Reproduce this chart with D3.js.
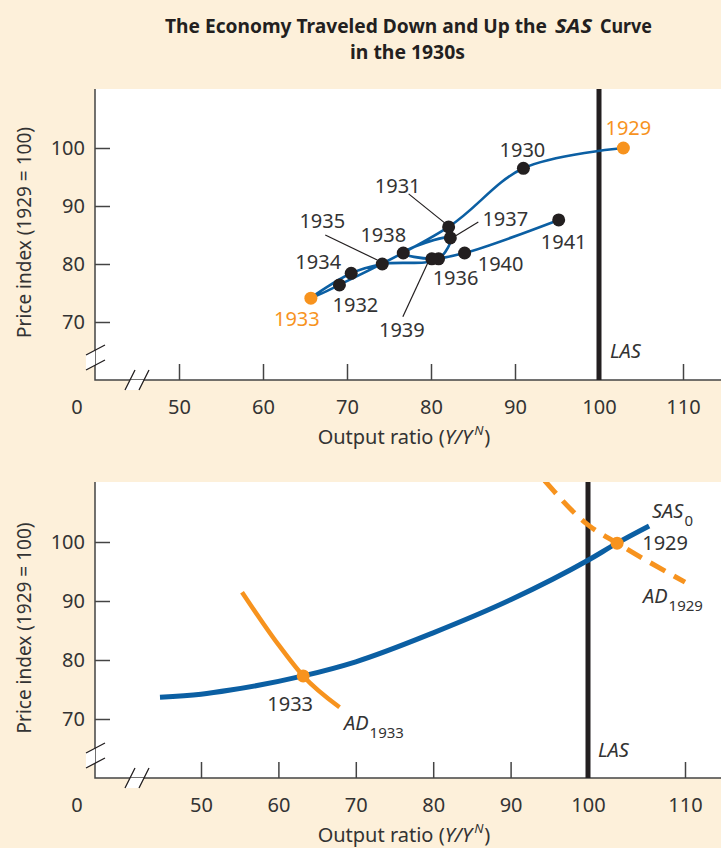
<!DOCTYPE html>
<meta charset="utf-8">
<style>
body { margin: 0; background: #fdf0da; }
svg { display: block; font-family: "Noto Sans", sans-serif; }
.tick text { font-size: 20px; fill: #333; font-family: "Noto Sans", sans-serif; }
.tick line { stroke: #444; stroke-width: 1.5; }
.lbl { font-size: 20px; fill: #333; }
.ital { font-style: italic; }
.ttl { font-size: 19px; font-weight: bold; fill: #231f20; }
</style>
<svg width="721" height="848"></svg>
<script src="https://d3js.org/d3.v7.min.js"></script>
<script>

// top panel: the economy's path 1929-1941
var years = [1929, 1930, 1931, 1932, 1933, 1934, 1935, 1936, 1937, 1938, 1939, 1940, 1941];
var outputRatio = [102.9, 91.0, 82.1, 69.1, 65.7, 70.5, 74.2, 80.9, 82.3, 76.7, 80.1, 84.0, 95.2];
var priceIndex = [100.0, 96.5, 86.4, 76.4, 74.1, 78.4, 80.0, 80.9, 84.5, 81.9, 80.9, 81.9, 87.6];

// bottom panel curves
var sasOutput = [44.7, 50, 53.8, 63.2, 70, 80, 90, 100, 103, 106.3];
var sasPrice = [73.7, 74.2, 74.9, 77.3, 79.7, 84.6, 90.2, 96.9, 99.8, 102.7];
var ad1933Output = [55.3, 60, 63.2, 67.9];
var ad1933Price = [91.5, 82.6, 77.3, 72.0];
var ad1929Output = [94.4, 100, 103, 110];
var ad1929Price = [110.4, 102.9, 99.8, 93.2];
var equilibria = [{ year: 1933, x: 63.2, y: 77.3 }, { year: 1929, x: 103, y: 99.8 }];

var xTicks = [50, 60, 70, 80, 90, 100, 110];
var yTicks = [70, 80, 90, 100];
var lasOutput = 100;

var orange = "#f7931e", blue = "#0b5fa3", ink = "#231f20";

// label offsets for the years in the top panel (px from the dot), with optional leader lines
var labelPos = {
  1929: { dx: 5, dy: -20, color: orange },
  1930: { dx: -1, dy: -18 },
  1931: { dx: -51, dy: -41, lead: [-40, -33, -4, -4] },
  1932: { dx: 16, dy: 20 },
  1933: { dx: -14, dy: 21, color: orange },
  1934: { dx: -33, dy: -11 },
  1935: { dx: -60, dy: -43, lead: [-57, -29, -5, -4] },
  1936: { dx: 17, dy: 19 },
  1937: { dx: 55, dy: -19, lead: [28, -16, 5, -2] },
  1938: { dx: -20, dy: -18 },
  1939: { dx: -30, dy: 71, lead: [-29, 58, -4, 4] },
  1940: { dx: 36, dy: 11 },
  1941: { dx: 5, dy: 22 }
};

var svg = d3.select("svg");

// title, in pieces squeezed to the widths of the condensed original face
function titlePiece(x, y, w, s, italic) {
  svg.append("text").attr("class", "ttl")
    .attr("x", x).attr("y", y)
    .attr("textLength", w).attr("lengthAdjust", "spacingAndGlyphs")
    .style("font-style", italic ? "italic" : "normal")
    .text(s);
}
titlePiece(165, 33, 382, "The Economy Traveled Down and Up the");
titlePiece(555, 33, 37, "SAS", true);
titlePiece(600, 33, 52, "Curve");
titlePiece(350, 59, 115, "in the 1930s");

// draws the frame, axes, breaks and LAS line of one panel
function panel(frame, x, y) {
  var g = svg.append("g");
  g.append("rect")
    .attr("x", frame.left).attr("y", frame.top)
    .attr("width", frame.right - frame.left).attr("height", frame.bottom - frame.top)
    .attr("fill", "#fff");

  g.append("g")
    .attr("transform", "translate(0," + frame.bottom + ")")
    .call(d3.axisBottom(x).tickValues(xTicks).tickSize(-16).tickPadding(20))
    .call(function(a) { a.select(".domain").remove(); });

  g.append("g")
    .attr("transform", "translate(" + frame.left + ",0)")
    .call(d3.axisLeft(y).tickValues(yTicks).tickSize(-15).tickPadding(10))
    .call(function(a) { a.select(".domain").remove(); });

  // zero label for the broken axis
  g.append("text").attr("class", "lbl")
    .attr("x", frame.left - 18).attr("y", frame.bottom + 20).attr("dy", "0.71em")
    .attr("text-anchor", "middle").text("0");

  // axis lines
  g.append("path")
    .attr("d", "M" + frame.left + "," + frame.top + "V" + frame.bottom + "H" + frame.right)
    .attr("fill", "none").attr("stroke", "#444").attr("stroke-width", 1.5);

  // break marks on y axis
  var by = frame.bottom - 35;
  g.append("path")
    .attr("d", "M86," + (by + 10) + "L95," + (by + 5) + "V" + (by + 20) + "L86," + (by + 25) + "Z")
    .attr("fill", "#fff");
  g.append("path")
    .attr("d", "M86," + (by + 10) + "L105," + by + "M86," + (by + 25) + "L105," + (by + 15))
    .attr("stroke", ink).attr("stroke-width", 1.3);
  // break marks on x axis
  var bx = frame.left + 30, yb = frame.bottom;
  g.append("path")
    .attr("d", "M" + (bx + 5) + "," + yb + "L" + (bx) + "," + (yb + 10) + "H" + (bx + 14) + "L" + (bx + 19) + "," + yb + "Z")
    .attr("fill", "#fff");
  g.append("path")
    .attr("d", "M" + bx + "," + (yb + 10) + "L" + (bx + 10) + "," + (yb - 10) +
               "M" + (bx + 14) + "," + (yb + 10) + "L" + (bx + 24) + "," + (yb - 10))
    .attr("stroke", ink).attr("stroke-width", 1.3);

  // LAS
  g.append("line")
    .attr("x1", x(lasOutput)).attr("x2", x(lasOutput))
    .attr("y1", frame.top).attr("y2", frame.bottom)
    .attr("stroke", ink).attr("stroke-width", 5);

  // axis titles
  svg.append("text").attr("class", "lbl")
    .attr("transform", "translate(31," + ((frame.top + frame.bottom) / 2 - 2) + ") rotate(-90)")
    .attr("text-anchor", "middle").style("font-size", "19px")
    .text("Price index (1929 = 100)");
  var xt = svg.append("text").attr("class", "lbl")
    .attr("x", 404).attr("y", frame.bottom + 64)
    .attr("text-anchor", "middle").style("font-size", "20px");
  xt.append("tspan").text("Output ratio (");
  xt.append("tspan").attr("class", "ital").text("Y/Y");
  xt.append("tspan").attr("class", "ital").attr("dx", 2).attr("dy", -9).style("font-size", "13px").text("N");
  xt.append("tspan").attr("dx", 1).attr("dy", 9).text(")");
  return g;
}

// ---------- top panel ----------
var f1 = { left: 95, top: 89, right: 721, bottom: 380 };
var x1 = d3.scaleLinear().domain([50, 110]).range([179, 683]);
var y1 = d3.scaleLinear().domain([70, 100]).range([322, 148]);
var g1 = panel(f1, x1, y1);

g1.append("text").attr("class", "lbl ital")
  .attr("x", x1(lasOutput) + 11).attr("y", f1.bottom - 22).text("LAS");

var pts = years.map(function(yr, i) { return { year: yr, x: outputRatio[i], y: priceIndex[i] }; });

g1.append("path")
  .datum(pts)
  .attr("fill", "none").attr("stroke", blue).attr("stroke-width", 2.6)
  .attr("d", d3.line()
    .x(function(d) { return x1(d.x); })
    .y(function(d) { return y1(d.y); })
    .curve(d3.curveCatmullRom.alpha(0.5)));

pts.forEach(function(d) {
  var p = labelPos[d.year], px = x1(d.x), py = y1(d.y);
  if (p.lead) {
    g1.append("line")
      .attr("x1", px + p.lead[0]).attr("y1", py + p.lead[1])
      .attr("x2", px + p.lead[2]).attr("y2", py + p.lead[3])
      .attr("stroke", ink).attr("stroke-width", 1.2);
  }
});

g1.selectAll(".dot")
  .data(pts)
  .enter().append("circle")
  .attr("cx", function(d) { return x1(d.x); })
  .attr("cy", function(d) { return y1(d.y); })
  .attr("r", 6.5)
  .attr("fill", function(d) { return labelPos[d.year].color ? orange : ink; });

g1.selectAll(".yr")
  .data(pts)
  .enter().append("text")
  .attr("class", "lbl")
  .attr("x", function(d) { return x1(d.x) + labelPos[d.year].dx; })
  .attr("y", function(d) { return y1(d.y) + labelPos[d.year].dy; })
  .attr("dy", "0.35em")
  .attr("text-anchor", "middle")
  .style("fill", function(d) { return labelPos[d.year].color || "#333"; })
  .text(function(d) { return d.year; });

// ---------- bottom panel ----------
var f2 = { left: 95, top: 482, right: 721, bottom: 778 };
var x2 = d3.scaleLinear().domain([50, 100, 110]).range([201, 588, 685]);
var y2 = d3.scaleLinear().domain([70, 100]).range([719, 542]);
var g2 = panel(f2, x2, y2);

svg.append("clipPath").attr("id", "clip2")
  .append("rect").attr("x", f2.left).attr("y", f2.top)
  .attr("width", f2.right - f2.left).attr("height", f2.bottom - f2.top);

var line2 = d3.line()
  .x(function(d) { return x2(d[0]); })
  .y(function(d) { return y2(d[1]); })
  .curve(d3.curveMonotoneX);
function zip(a, b) { return a.map(function(v, i) { return [v, b[i]]; }); }

var curves = g2.append("g").attr("clip-path", "url(#clip2)");
curves.append("path")
  .attr("d", line2(zip(ad1929Output, ad1929Price)))
  .attr("fill", "none").attr("stroke", orange).attr("stroke-width", 5)
  .attr("stroke-dasharray", "17,10");
curves.append("path")
  .attr("d", line2(zip(ad1933Output, ad1933Price)))
  .attr("fill", "none").attr("stroke", orange).attr("stroke-width", 4.5);
curves.append("path")
  .attr("d", line2(zip(sasOutput, sasPrice)))
  .attr("fill", "none").attr("stroke", blue).attr("stroke-width", 5);

g2.selectAll(".eq")
  .data(equilibria)
  .enter().append("circle")
  .attr("cx", function(d) { return x2(d.x); })
  .attr("cy", function(d) { return y2(d.y); })
  .attr("r", 6.5).attr("fill", orange);

g2.append("text").attr("class", "lbl").attr("text-anchor", "middle")
  .attr("x", x2(63.2) - 13).attr("y", y2(77.3) + 28).attr("dy", "0.35em").text("1933");
g2.append("text").attr("class", "lbl").attr("text-anchor", "middle")
  .attr("x", x2(103) + 48).attr("y", y2(99.8)).attr("dy", "0.35em").text("1929");

function subLabel(x, y, main, sub) {
  var t = g2.append("text").attr("class", "lbl ital").attr("x", x).attr("y", y);
  t.append("tspan").text(main);
  t.append("tspan").attr("dx", 1).attr("dy", 8).style("font-style", "normal").style("font-size", "15px").text(sub);
}
subLabel(652, 518, "SAS", "0");
subLabel(643, 603, "AD", "1929");
subLabel(344, 730, "AD", "1933");
g2.append("text").attr("class", "lbl ital")
  .attr("x", x2(lasOutput) + 10).attr("y", 757).text("LAS");
</script>
